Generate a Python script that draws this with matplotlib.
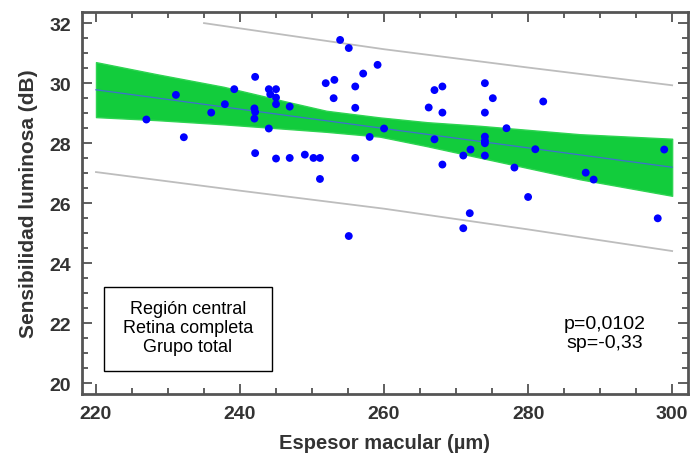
import matplotlib
matplotlib.use("Agg")
import matplotlib.pyplot as plt
from matplotlib.patches import Rectangle
from matplotlib.ticker import MultipleLocator

plt.rcParams["font.family"] = ["Liberation Sans", "DejaVu Sans"]

# scatter: espesor macular (um) vs sensibilidad luminosa (dB)
espesor = [231.1, 227.0, 232.2, 236.0, 237.9, 239.2, 242.1, 242.0, 242.1, 242.0,
           244.0, 245.0, 244.2, 245.0, 245.0, 246.9, 244.0, 242.1, 245.0, 246.9,
           249.0, 250.2, 251.1, 251.1, 253.9, 255.1, 259.1, 257.1, 251.9, 253.1,
           256.0, 253.0, 256.0, 260.0, 258.0, 256.0, 255.1, 267.0, 268.1, 274.0,
           275.1, 266.2, 268.1, 274.0, 277.0, 267.0, 274.0, 274.0, 274.0, 272.0,
           271.0, 274.0, 278.1, 268.1, 271.9, 271.0, 282.1, 281.0, 280.0, 288.0,
           289.1, 298.9, 298.0]
sensib = [29.61, 28.79, 28.20, 29.02, 29.30, 29.80, 30.21, 29.16, 29.04, 28.82,
          29.80, 29.80, 29.63, 29.52, 29.30, 29.22, 28.49, 27.67, 27.49, 27.51,
          27.62, 27.51, 27.51, 26.81, 31.44, 31.17, 30.61, 30.32, 30.00, 30.11,
          29.89, 29.50, 29.18, 28.49, 28.21, 27.51, 24.91, 29.77, 29.89, 30.00,
          29.50, 29.19, 29.02, 29.02, 28.50, 28.13, 28.22, 28.08, 28.00, 27.79,
          27.59, 27.59, 27.19, 27.29, 25.67, 25.17, 29.39, 27.80, 26.21, 27.02,
          26.79, 27.79, 25.50]

# fitted line
fit_x = [220, 300]
fit_y = [29.78, 27.20]

# confidence band
band_x = [220, 228.4, 237.7, 246.9, 252, 259.4, 266, 273.3, 287.2, 300]
band_hi = [30.70, 30.30, 29.88, 29.36, 29.08, 28.86, 28.70, 28.58, 28.30, 28.15]
band_lo = [28.87, 28.77, 28.63, 28.47, 28.38, 28.22, 27.90, 27.52, 26.80, 26.25]

# prediction limits
pred_hi_x = [235, 247, 260, 280, 300]
pred_hi_y = [32.0, 31.58, 31.13, 30.52, 29.93]
pred_lo_x = [220, 240, 260, 280, 300]
pred_lo_y = [27.04, 26.42, 25.82, 25.13, 24.41]

txt_color = "#333333"

fig = plt.figure(figsize=(6.92, 4.56), dpi=100)
ax = fig.add_axes([0.1185, 0.1338, 0.8757, 0.8377])

ax.fill_between(band_x, band_lo, band_hi, color="#12cc3c", lw=1,
                edgecolor="#2ed452", zorder=1)
ax.plot(fit_x, fit_y, color="#3f6fd0", lw=0.9, zorder=2)
ax.plot(pred_hi_x, pred_hi_y, color="#bdbdbd", lw=1.3, zorder=2)
ax.plot(pred_lo_x, pred_lo_y, color="#bdbdbd", lw=1.3, zorder=2)
ax.scatter(espesor, sensib, s=32, color="#0000ff", edgecolors="none", zorder=3)

ax.set_xlim(218.06, 302.2)
ax.set_ylim(19.65, 32.37)
ax.xaxis.set_major_locator(MultipleLocator(20))
ax.xaxis.set_minor_locator(MultipleLocator(5))
ax.yaxis.set_major_locator(MultipleLocator(2))
ax.yaxis.set_minor_locator(MultipleLocator(0.5))
ax.tick_params(which="both", direction="in", top=True, right=True,
               color="#444444", width=1.2)
ax.tick_params(which="major", length=7, pad=8, labelsize=14, labelcolor=txt_color)
ax.tick_params(which="minor", length=4)
for lab in ax.get_xticklabels() + ax.get_yticklabels():
    lab.set_fontweight("bold")
for sp in ax.spines.values():
    sp.set_color("#555555")
    sp.set_linewidth(2)

ax.set_xlabel("Espesor macular (µm)", fontsize=14.5, fontweight="bold",
              color=txt_color, labelpad=8)
ax.set_ylabel("Sensibilidad luminosa (dB)", fontsize=15, fontweight="bold",
              color=txt_color, labelpad=8)

ax.add_patch(Rectangle((0.0363, 0.0602), 0.2772, 0.2198, transform=ax.transAxes,
                       fill=False, edgecolor="black", lw=1, zorder=4))
ax.text(0.175, 0.175, "Región central\nRetina completa\nGrupo total",
        transform=ax.transAxes, ha="center", va="center", fontsize=13,
        linespacing=1.15, zorder=5)
ax.text(0.863, 0.16, "p=0,0102\nsp=-0,33", transform=ax.transAxes,
        ha="center", va="center", fontsize=14, linespacing=1.1, zorder=5)

fig.savefig("out.png", dpi=100)
